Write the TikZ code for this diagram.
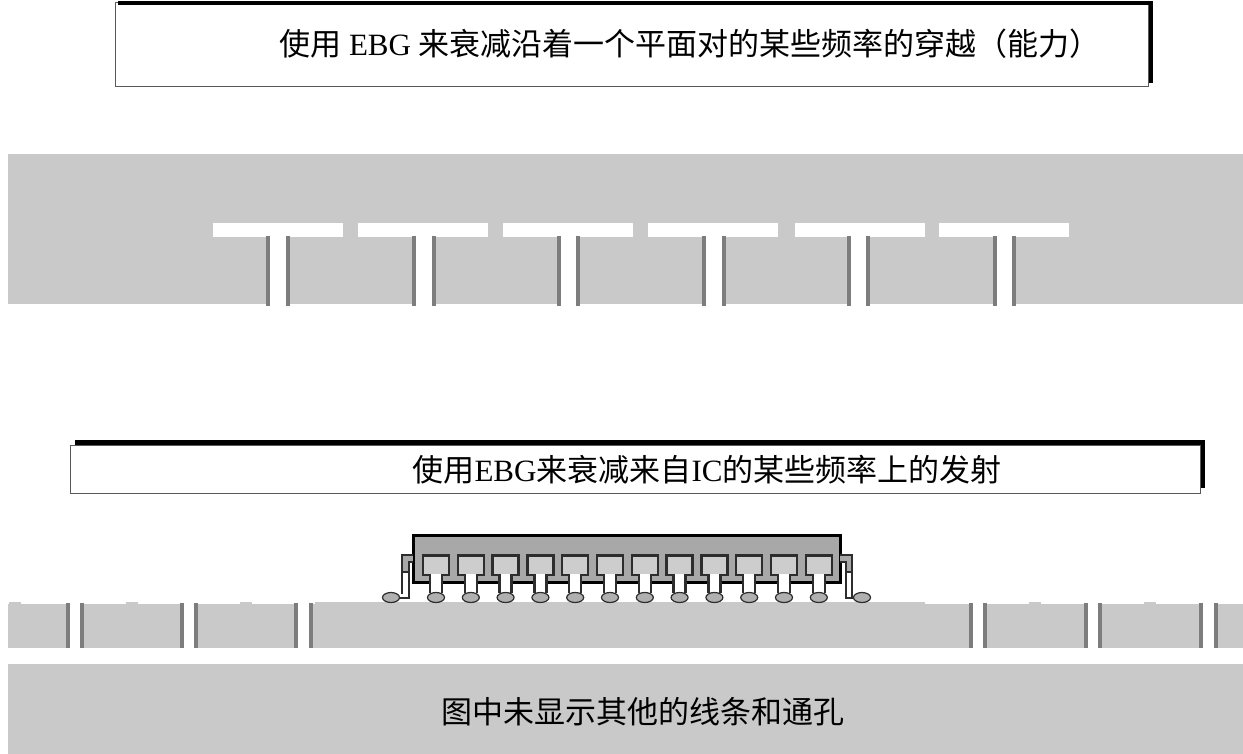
\documentclass[tikz,border=0pt]{standalone}
\usepackage{fontspec}
\setmainfont{Liberation Serif}
\newfontfamily\cjk{Noto Sans CJK SC}
\definecolor{slabgray}{RGB}{201,201,201}
\definecolor{viagray}{RGB}{125,125,125}
\definecolor{chipgray}{RGB}{168,168,168}
\definecolor{padgray}{RGB}{205,205,205}
\definecolor{ballgray}{RGB}{176,176,176}
\definecolor{linegray}{RGB}{45,45,45}
\newcommand{\viagap}[4]{%
  \fill[white] (#1,#3) rectangle (#2,#4);
  \draw[viagray,line width=3.6pt] (#1,#3)--(#1,#4);
  \draw[viagray,line width=3.6pt] (#2,#3)--(#2,#4);
}
\tikzset{
  titlebox/.style={draw=black!65,fill=white,line width=1pt,inner sep=0pt},
  titletext/.style={inner sep=0pt,font=\fontsize{31}{36}\selectfont},
  shadowline/.style={line width=4.5pt},
  slab/.style={fill=slabgray},
  chipline/.style={draw=linegray,line width=2.4pt},
  leadline/.style={draw=linegray,line width=2pt},
  ballmark/.style={draw=linegray,fill=ballgray,line width=1.2pt}
}
\begin{document}
\begin{tikzpicture}[x=1pt,y=-1pt]
\useasboundingbox (0,0) rectangle (1243,754);
\fill[white] (0,0) rectangle (1243,754);
% first heading
\node[titlebox,minimum width=1033pt,minimum height=84pt] (boxA) at (631.5,45) {};
\draw[shadowline] (118,3)--(1151,3)--(1151,83);
\node[titletext] (titleA) at (690,44) {{\cjk 使用} EBG {\cjk 来衰减沿着一个平面对的某些频率的穿越（能力）}};
% upper plane
\fill[slab] (8,154) rectangle (1243,304);
\foreach \x in {213,358,503,648,795,939}{\fill[white] (\x,223) rectangle (\x+129.5,237);}
\foreach \a/\b in {268/288,414/434,559/578,704/724,849/868,995/1014}{\viagap{\a}{\b}{236}{306}}
% second heading
\node[titlebox,minimum width=1130pt,minimum height=48pt] (boxB) at (635,469) {};
\draw[shadowline] (75,442.5)--(1203,442.5)--(1203,488);
\node[titletext] (titleB) at (707,470) {{\cjk 使用}EBG{\cjk 来衰减来自}IC{\cjk 的某些频率上的发射}};
% lower plane
\fill[slab] (8,604) rectangle (1243,648);
\fill[slab] (315,602) rectangle (925,606);
\foreach \x in {15,132,246,1035,1150}{\fill[slab] (\x-6,601.5) rectangle (\x+6,605);}
\foreach \a/\b in {68/82,182/196,296/311,971/985,1086/1100,1201/1216}{\viagap{\a}{\b}{603}{648}}
\fill[slab] (8,664) rectangle (1243,754);
\node[titletext] (noteC) at (643,712) {\cjk 图中未显示其他的线条和通孔};
% chip
\draw[draw=black,fill=chipgray,line width=3pt] (413.5,535.5) rectangle (840,582);
% outer leads
\fill[chipgray] (402,554) rectangle (413,561);
\fill[chipgray] (402,561) rectangle (408,572);
\fill[chipgray] (840,554) rectangle (852,561);
\fill[chipgray] (845,561) rectangle (852,572);
\draw[leadline] (413,554.5)--(402,554.5)--(402,594);
\draw[leadline] (413,561.5)--(408.5,561.5)--(408.5,598)--(399,598);
\draw[leadline] (402,572)--(408,572);
\draw[leadline] (840,554.5)--(852,554.5)--(852,597);
\draw[leadline] (840,561.5)--(845.5,561.5)--(845.5,598)--(855,598);
\draw[leadline] (845,572)--(852,572);
\foreach \x in {391,862}{\draw[ballmark] (\x,597.5) ellipse (8.5pt and 5pt);}
% pads and balls
\foreach \i in {0,...,11}{
  \pgfmathsetmacro{\px}{436+34.8*\i}
  \fill[white] (\px-6,575) rectangle (\px+6,594);
  \draw[chipline] (\px-6,575)--(\px-6,593);
  \draw[chipline] (\px+6,575)--(\px+6,593);
  \draw[chipline,fill=padgray] (\px-13,555.5) rectangle (\px+13,575);
  \fill[white] (\px-4.8,574) rectangle (\px+4.8,577);
  \draw[ballmark] (\px,597.5) ellipse (8.5pt and 5pt);
}
\end{tikzpicture}
\end{document}
